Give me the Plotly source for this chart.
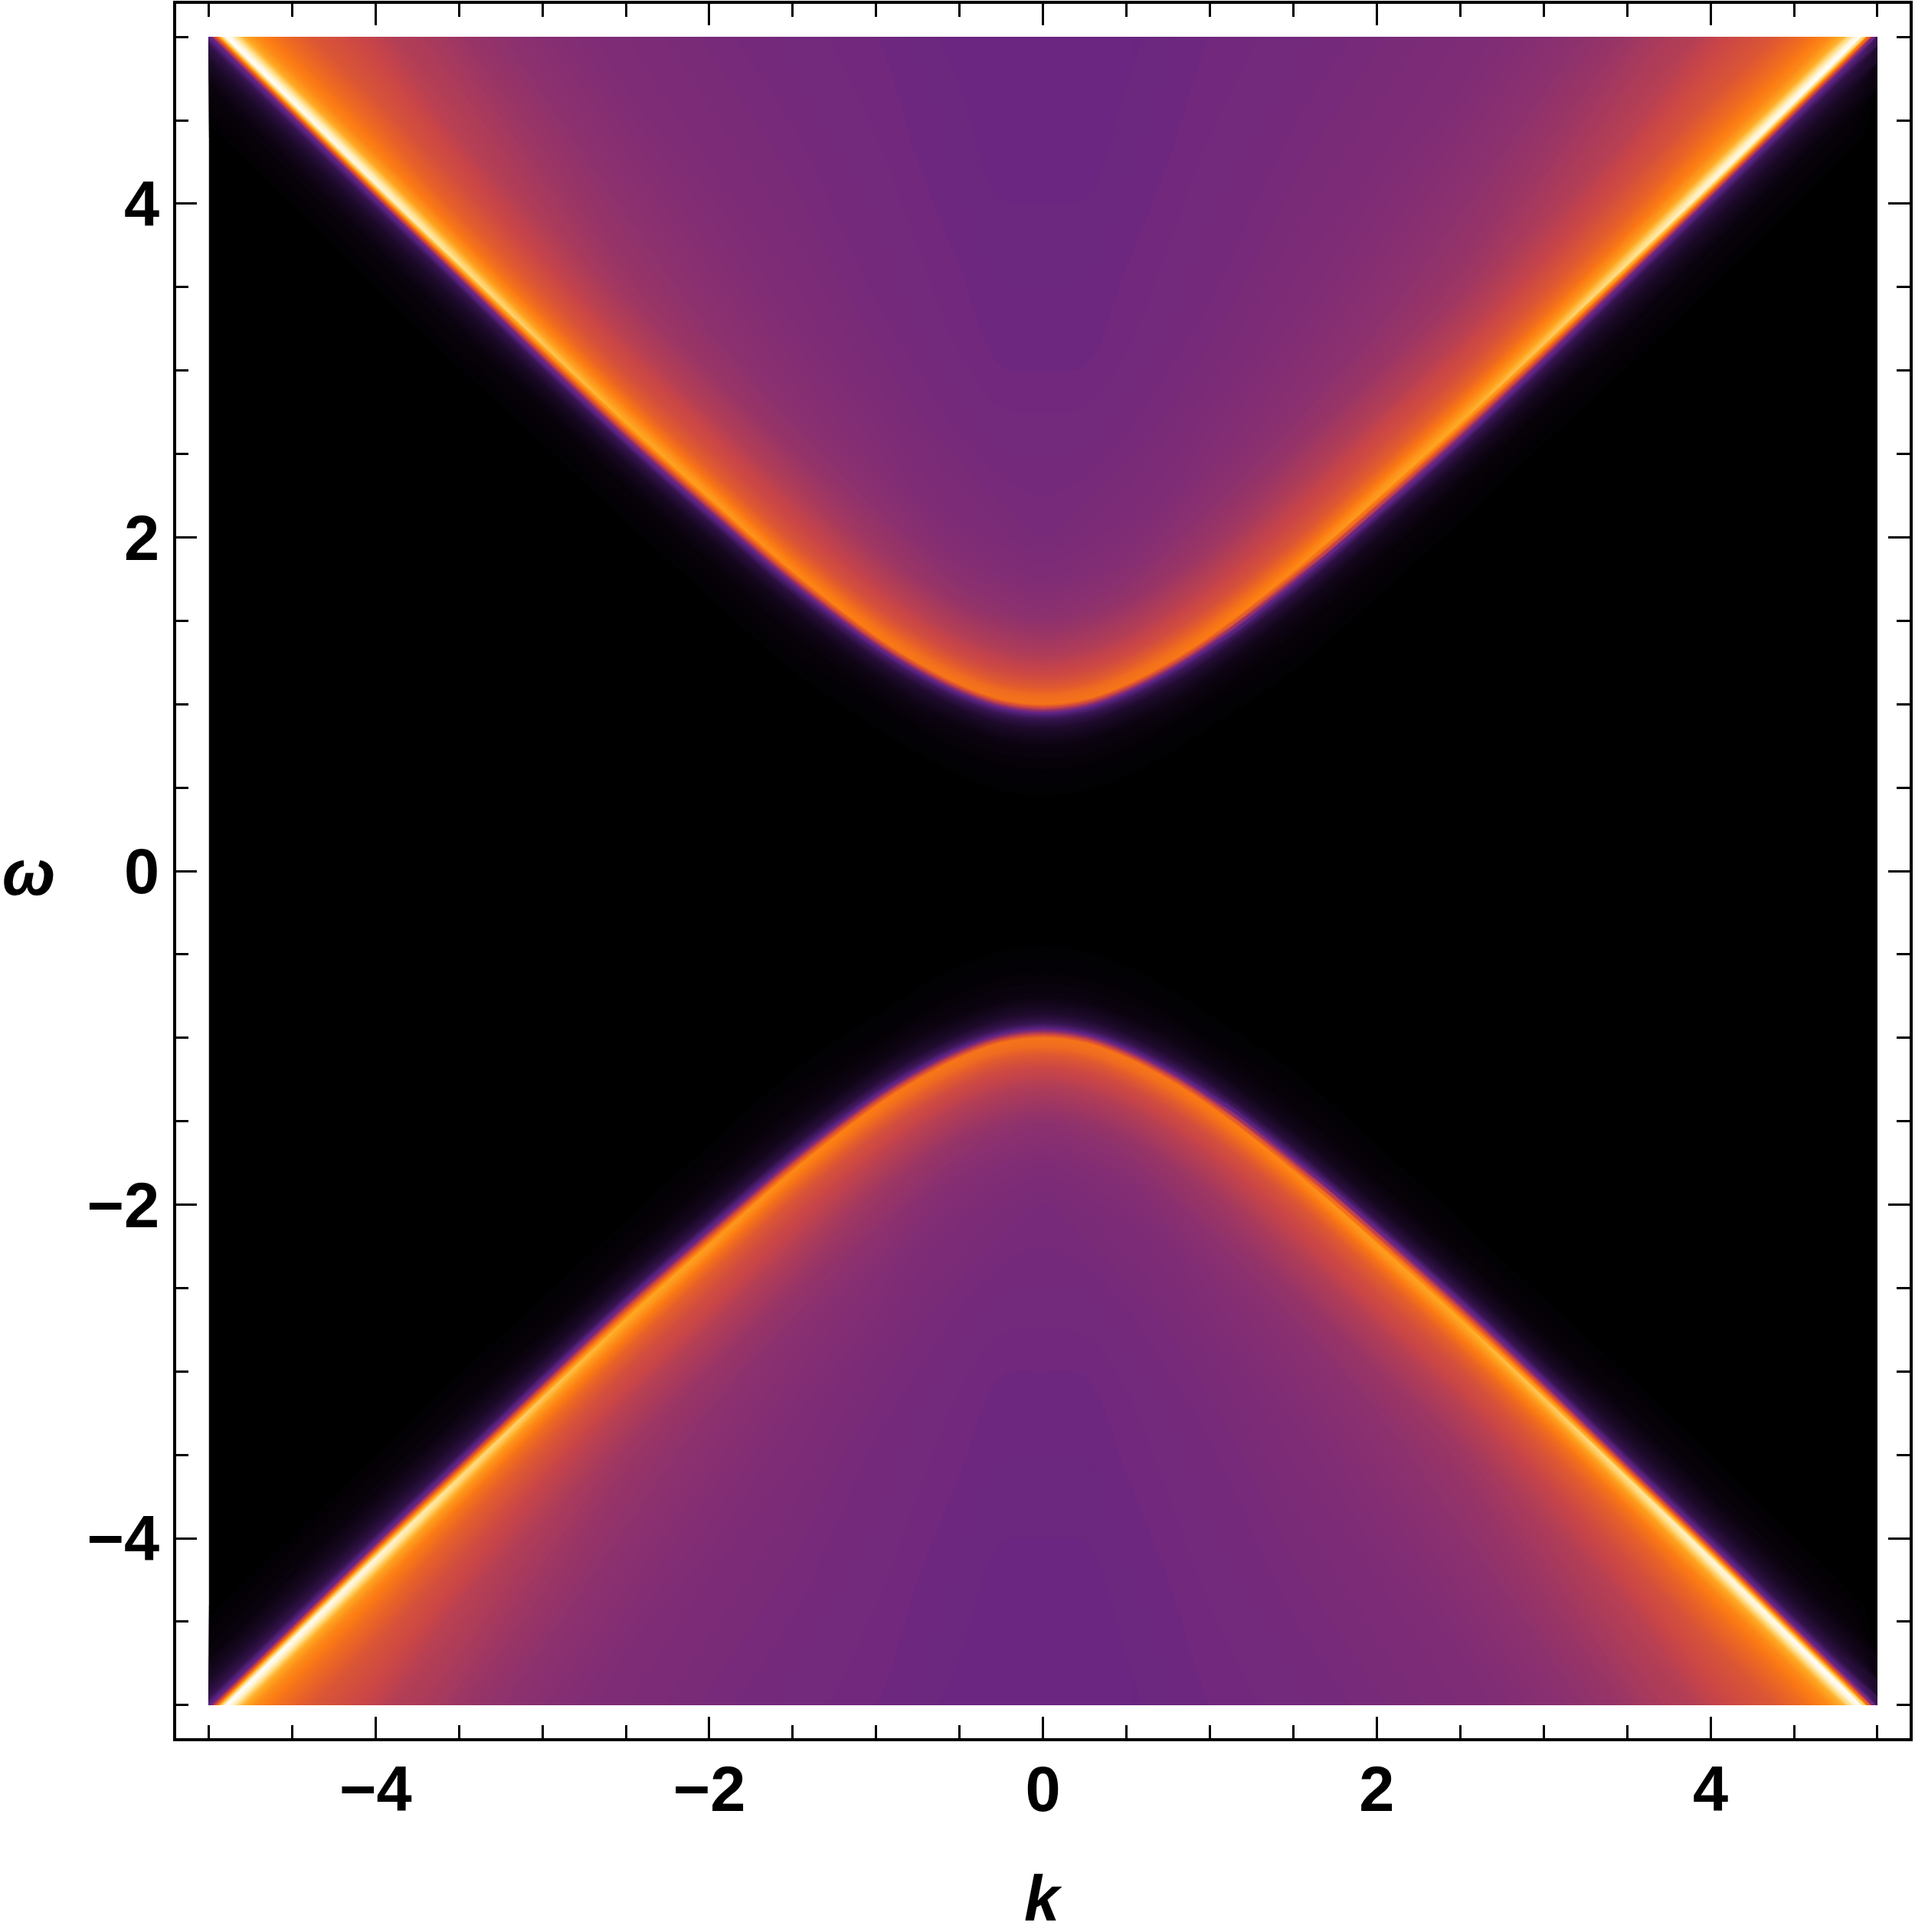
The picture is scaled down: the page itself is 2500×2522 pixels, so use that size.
## spectral map over k and omega, hyperbolic bands drawn with contourcarpet

import plotly.graph_objects as go

W, H = 2500, 2522

def fx(p):
    return p / W

def fy(p):
    return 1 - p / H

# positive k columns, the negative side is the mirror image
k_half = [0, 0.25, 0.5, 0.75, 1, 1.5, 2, 2.5, 3, 3.5, 4, 4.5, 5]
# upper band ridge at those k
ridge_half = [1.0, 1.03, 1.12, 1.25, 1.41, 1.8, 2.24, 2.69, 3.16, 3.64, 4.12, 4.61, 5.1]
# distance from the ridge in omega, negative is the black side
offsets = [-0.7, -0.4, -0.25, -0.15, -0.09, -0.06, -0.03, 0, 0.03, 0.06, 0.1, 0.18, 0.3, 0.5, 0.75, 1.0, 1.5, 2.0, 3.0, 4.2]

# intensity, one row per offset, one column per k_half
z_half = [
    [0, 0, 0, 0, 0, 0, 0, 0, 0, 0, 0, 0, 0],
    [.02, .02, .02, .02, .02, .03, .03, .03, .03, .04, .04, .04, .04],
    [.05, .05, .05, .06, .06, .07, .08, .09, .09, .1, .1, .1, .1],
    [.11, .11, .11, .12, .13, .15, .17, .19, .19, .18, .18, .18, .18],
    [.19, .19, .2, .21, .23, .28, .33, .38, .37, .35, .33, .33, .33],
    [.28, .28, .29, .31, .34, .42, .49, .55, .56, .55, .55, .55, .55],
    [.46, .46, .47, .49, .52, .59, .65, .7, .74, .78, .82, .84, .85],
    [.66, .66, .665, .67, .68, .72, .77, .81, .86, .91, .97, .99, 1.0],
    [.65, .65, .655, .66, .67, .7, .75, .78, .83, .88, .95, .97, .98],
    [.63, .63, .635, .64, .65, .67, .71, .74, .78, .83, .89, .91, .92],
    [.58, .58, .59, .6, .61, .63, .66, .69, .72, .76, .81, .82, .83],
    [.51, .515, .52, .53, .54, .56, .59, .61, .64, .67, .71, .72, .73],
    [.46, .465, .47, .48, .49, .51, .53, .54, .57, .6, .64, .65, .66],
    [.41, .415, .42, .43, .44, .46, .47, .48, .5, .53, .56, .57, .58],
    [.38, .385, .39, .4, .41, .42, .43, .44, .46, .48, .51, .52, .52],
    [.365, .37, .375, .38, .39, .4, .41, .42, .44, .46, .47, .48, .49],
    [.355, .355, .36, .365, .37, .38, .39, .4, .41, .42, .44, .45, .46],
    [.345, .345, .35, .355, .36, .37, .375, .38, .39, .4, .41, .42, .43],
    [.335, .335, .34, .345, .35, .355, .36, .365, .37, .38, .39, .4, .4],
    [.33, .33, .33, .335, .34, .345, .35, .355, .36, .37, .37, .38, .38],
]

colors = [
    [0, '#000000'], [0.05, '#0d0412'], [0.15, '#2b103f'], [0.3, '#5f2687'],
    [0.33, '#6a2680'], [0.4, '#8a3070'], [0.5, '#c84548'], [0.6, '#e6602a'],
    [0.68, '#fb7a14'], [0.8, '#ffa722'], [0.9, '#ffdc80'], [1, '#ffffff'],
]

major_ticks = [-4, -2, 0, 2, 4]
minor_ticks = [-5, -4.5, -3.5, -3, -2.5, -1.5, -1, -0.5, 0.5, 1, 1.5, 2.5, 3, 3.5, 4.5, 5]

# mirror the half tables to the full k range
k_full = [-k for k in k_half[:0:-1]] + k_half
ridge_full = ridge_half[:0:-1] + ridge_half
z_full = [row[:0:-1] + row for row in z_half]

fig = go.Figure()
for sign, cid in [(1, 'upper'), (-1, 'lower')]:
    y_grid = [[sign * (r + off) for r in ridge_full] for off in offsets]
    x_grid = [k_full for off in offsets]
    fig.add_trace(go.Carpet(
        carpet=cid, a=k_full, b=offsets, x=x_grid, y=y_grid, xaxis='x', yaxis='y',
        aaxis=dict(smoothing=1, showgrid=False, showline=False, showticklabels='none', startline=False, endline=False, minorgridcount=0),
        baxis=dict(smoothing=0, showgrid=False, showline=False, showticklabels='none', startline=False, endline=False, minorgridcount=0),
    ))
    fig.add_trace(go.Contourcarpet(
        carpet=cid, a=k_full, b=offsets, z=z_full, xaxis='x', yaxis='y',
        autocontour=False, contours=dict(coloring='fill', start=0.005, end=1, size=0.005, showlines=False),
        line=dict(width=0), colorscale=colors, zmin=0, zmax=1, showscale=False,
    ))

font_main = dict(family='Liberation Sans', size=83, color='black', weight=700)
font_axis = dict(family='Liberation Sans', size=83, color='black', weight=700, style='italic')

frame = dict(
    ticks='inside', ticklen=28, tickwidth=3, tickcolor='black',
    tickmode='array', tickvals=major_ticks, tickfont=font_main,
    minor=dict(tickmode='array', tickvals=minor_ticks, ticks='inside', ticklen=17, tickwidth=3, tickcolor='black'),
    showline=True, linewidth=3.5, linecolor='black', mirror='ticks',
    showgrid=False, zeroline=False, fixedrange=True,
)

fig.update_layout(
    width=W, height=H,
    margin=dict(l=0, r=0, t=0, b=0),
    paper_bgcolor='white', plot_bgcolor='rgba(0,0,0,0)',
    showlegend=False,
    xaxis=dict(domain=[fx(272.5), fx(2451)], range=[-5, 5], visible=False, anchor='y'),
    yaxis=dict(domain=[fy(2226), fy(48)], range=[-5, 5], visible=False, anchor='x'),
    xaxis2=dict(domain=[fx(229.5), fx(2493)], range=[-5.197, 5.193], anchor='y2', ticklabelstandoff=-8, **frame),
    yaxis2=dict(domain=[fy(2269), fy(5)], range=[-5.198, 5.198], anchor='x2', ticklabelstandoff=1, **frame),
    shapes=[dict(type='rect', xref='x', yref='y', x0=-5, x1=5, y0=-5, y1=5, fillcolor='black', line_width=0, layer='below')],
    annotations=[
        dict(text='k', xref='paper', yref='paper', x=fx(1362), y=fy(2478), xanchor='center', yanchor='middle', showarrow=False, font=font_axis),
        dict(text='ω', xref='paper', yref='paper', x=fx(37), y=fy(1140), xanchor='center', yanchor='middle', showarrow=False, font=font_axis),
    ],
)
fig.add_trace(go.Scatter(x=[None], y=[None], xaxis='x2', yaxis='y2', hoverinfo='skip'))

# drop the default body margin so the figure fills the window
fig.write_html("out.html", config=dict(displayModeBar=False),
               post_script="document.body.style.margin='0';document.body.style.overflow='hidden';")
